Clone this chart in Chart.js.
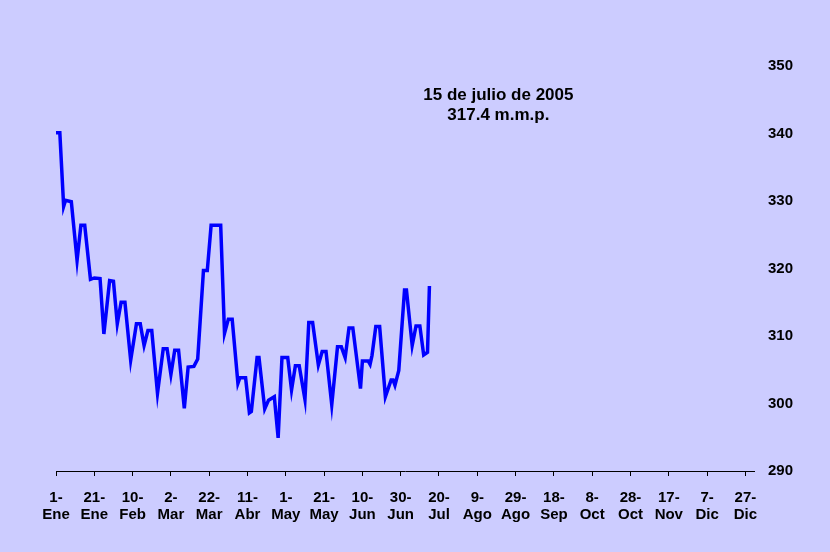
<!DOCTYPE html>
<html>
<head>
<meta charset="utf-8">
<script src="https://cdn.jsdelivr.net/npm/chart.js@4.4.1/dist/chart.umd.min.js"></script>
<style>
  html, body { margin: 0; padding: 0; background: #ccccff; }
  #wrap { width: 830px; height: 552px; position: relative; }
</style>
</head>
<body>
<div id="wrap"><canvas id="reservas"></canvas></div>
<script>
// dia del año (0 = 1 de enero 2005) y nivel
const dias = [0, 2, 4, 5, 8, 11, 13, 15, 18, 20, 23, 25, 28, 30, 32, 34, 36, 39, 42,
    44, 46, 48, 50, 53, 56, 58, 60, 62, 64, 67, 69, 72, 74, 77, 79, 81, 86, 88, 90,
    92, 95, 96, 99, 101, 102, 105, 106, 109, 111, 114, 116, 118, 121, 123, 125, 127,
    130, 132, 134, 137, 139, 141, 144, 147, 149, 151, 153, 155, 159, 160, 163, 164,
    165, 167, 169, 172, 175, 176, 177, 179, 182, 183, 186, 188, 190, 192, 194, 195];
const niveles = [340.1, 340.1, 329.2, 330.1, 329.9, 321.2, 326.4, 326.4, 318.4, 318.6,
    318.5, 310.3, 318.2, 318.1, 311.8, 315.0, 315.0, 306.4, 311.8, 311.8, 308.6, 310.8,
    310.8, 301.5, 308.1, 308.1, 304.3, 307.9, 307.9, 299.3, 305.4, 305.5, 306.6, 319.7,
    319.7, 326.4, 326.4, 310.4, 312.5, 312.5, 303.0, 303.8, 303.8, 298.6, 298.8, 306.8,
    306.8, 299.2, 300.5, 301.0, 294.9, 306.8, 306.8, 302.0, 305.6, 305.6, 300.6, 312.0,
    312.0, 305.7, 307.7, 307.7, 299.8, 308.4, 308.4, 306.8, 311.2, 311.2, 302.2, 306.3,
    306.3, 305.8, 307.1, 311.4, 311.4, 301.0, 303.5, 303.5, 302.7, 304.9, 316.8, 316.8,
    308.6, 311.5, 311.5, 307.2, 307.6, 317.4];

const tickDias = [0, 20, 40, 60, 80, 100, 120, 140, 160, 180, 200, 220, 240, 260, 280, 300, 320, 340, 360];
const tickEtiquetas = ['1-|Ene', '21-|Ene', '10-|Feb', '2-|Mar', '22-|Mar', '11-|Abr', '1-|May',
    '21-|May', '10-|Jun', '30-|Jun', '20-|Jul', '9-|Ago', '29-|Ago', '18-|Sep', '8-|Oct',
    '28-|Oct', '17-|Nov', '7-|Dic', '27-|Dic'];

const notaFecha = '15 de julio de 2005';
const notaValor = '317.4 m.m.p.';

const puntos = dias.map(function(d, i) { return { x: d, y: niveles[i] }; });

// texto del ultimo dato dentro del area del grafico
const notaPlugin = {
    id: 'nota',
    afterDraw: function(chart) {
        const c = chart.ctx;
        const xs = chart.scales.x, ys = chart.scales.y;
        c.save();
        c.fillStyle = '#000';
        c.font = 'bold 17px "Liberation Sans", Arial, sans-serif';
        c.textAlign = 'center';
        c.textBaseline = 'middle';
        const cx = xs.getPixelForValue(231);
        c.fillText(notaFecha, cx, ys.getPixelForValue(345.6));
        c.fillText(notaValor, cx, ys.getPixelForValue(342.7));
        c.restore();
    }
};

Chart.defaults.font.family = '"Liberation Sans", Arial, sans-serif';
Chart.defaults.font.weight = 'bold';
Chart.defaults.font.size = 15;
Chart.defaults.color = '#000';

new Chart(document.getElementById('reservas'), {
    type: 'line',
    data: {
        datasets: [{
            data: puntos,
            borderColor: '#0000ff',
            borderWidth: 3.5,
            pointRadius: 0,
            tension: 0,
            fill: false
        }]
    },
    options: {
        responsive: true,
        maintainAspectRatio: false,
        animation: false,
        layout: { padding: { left: 56, right: 24, top: 66, bottom: 15 } },
        plugins: { legend: { display: false }, tooltip: { enabled: false } },
        scales: {
            x: {
                type: 'linear',
                min: 0,
                max: 365,
                border: { display: true, color: '#000', width: 1 },
                grid: { display: true, drawOnChartArea: false, drawTicks: true, tickLength: 5, color: '#000' },
                afterBuildTicks: function(scale) {
                    scale.ticks = tickDias.map(function(v) { return { value: v }; });
                },
                ticks: {
                    autoSkip: false,
                    maxRotation: 0,
                    padding: 14,
                    font: { size: 15, lineHeight: 1.1 },
                    callback: function(v) {
                        const i = tickDias.indexOf(v);
                        return i >= 0 ? tickEtiquetas[i].split('|') : '';
                    }
                }
            },
            y: {
                position: 'right',
                min: 290,
                max: 350,
                border: { display: false },
                grid: { display: false, drawTicks: false },
                ticks: { stepSize: 10, padding: 13 }
            }
        }
    },
    plugins: [notaPlugin]
});
</script>
</body>
</html>
